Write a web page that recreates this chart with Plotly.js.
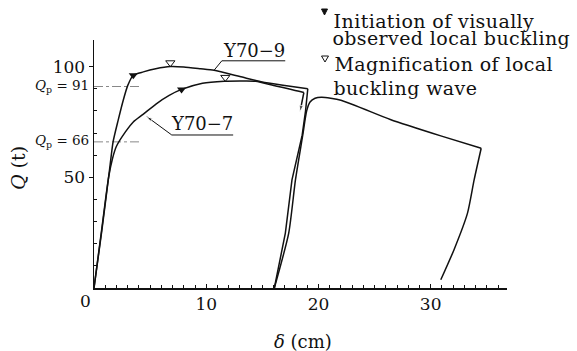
<!DOCTYPE html>
<html>
<head>
<meta charset="utf-8">
<script src="https://cdn.plot.ly/plotly-3.0.1.min.js"></script>
<style>
  html, body { margin: 0; padding: 0; background: #fff; }
  #chart { width: 577px; height: 351px; }
  /* the four symbol-legend lines (first four annotations) are set slightly open */
  .annotation[data-index="0"] text,
  .annotation[data-index="1"] text,
  .annotation[data-index="2"] text,
  .annotation[data-index="3"] text { letter-spacing: 0.4px; }
</style>
</head>
<body>
<div id="chart"></div>
<script>
// Load Q (t) versus displacement δ (cm) for specimens Y70-9 and Y70-7

// Y70-9: first loading up to the peak region and the turn-down point
const y709LoadX = [0, 0.7, 1.35, 1.7, 2.15, 2.6, 3.0, 3.5, 4.4, 5.5, 6.8, 8.0, 9.5, 10.7, 13.0, 15.0, 17.0, 19.05];
const y709LoadY = [0, 26, 52, 66, 75.7, 84.7, 91.4, 96.1, 97.6, 99.0, 100, 99.8, 99.0, 98.3, 95.5, 93.0, 91.5, 90.0];

// Y70-9: unloading back to zero load
const y709UnloadX = [19.05, 18.85, 18.55, 17.64, 17.05, 16.07];
const y709UnloadY = [90, 80, 69, 48.8, 24.8, 0];

// Y70-9: reloading, second peak and softening branch
const y709ReloadX = [16.07, 17.35, 17.95, 18.6, 18.95, 19.25, 19.7, 20.3, 22.0, 26.4, 30.9, 34.5];
const y709ReloadY = [0, 24.8, 48.8, 69, 80, 84, 85.7, 86.1, 84.8, 76.1, 68.7, 63.1];

// Y70-9: final unloading
const y709FinalX = [34.5, 33.87, 33.28, 32.08, 30.9];
const y709FinalY = [63.1, 48.8, 33.8, 17.3, 3.7];

// Y70-7: loading curve
const y707LoadX = [0, 0.65, 1.3, 1.65, 2.0, 2.8, 3.5, 4.37, 5.55, 6.7, 7.8, 9.67, 11.6, 13.0, 14.4, 16.2, 17.5, 18.7];
const y707LoadY = [0, 25, 50, 58.5, 64, 70.5, 75, 78.4, 83.2, 87, 89.7, 92.5, 93.4, 93.5, 93.4, 91.2, 89.8, 88.3];

// Y70-7: drop after the last recorded point
const y707DropX = [18.7, 18.35];
const y707DropY = [88.3, 79.5];

// Observation markers
const initiationX = [3.5, 7.8];      // ▼ initiation of visually observed local buckling
const initiationY = [96.1, 89.7];
const magnificationX = [6.8, 11.7];  // ▽ magnification of local buckling wave
const magnificationY = [101.7, 95.1];

// Yield loads Qp
const qpValues = [91, 66];
const qpLineEnd = 4.2;

// Axis ticks
const xTickVals = [10, 20, 30];
const xTickText = ['10', '20', '30'];
const yTickVals = [50, 100];
const yTickText = ['50', '100'];
const yMinorVals = [10, 20, 30, 40, 60, 70, 80, 90];

const INK = '#111';
const SERIF = 'DejaVu Serif, Liberation Serif, serif';
const LEGEND_SPACING = 0.4; // px, matches the stylesheet rule above

function curve(x, y, shape) {
  return {
    x: x, y: y, type: 'scatter', mode: 'lines',
    line: { color: INK, width: 1.5, shape: shape || 'spline', smoothing: 0.6 },
    hoverinfo: 'skip', showlegend: false
  };
}

const traces = [];

// dash-dot yield load lines
qpValues.forEach(q => {
  traces.push({
    x: [0, qpLineEnd], y: [q, q], type: 'scatter', mode: 'lines',
    line: { color: '#888', width: 1, dash: 'dashdot' },
    hoverinfo: 'skip', showlegend: false
  });
});

traces.push(curve(y709LoadX, y709LoadY));
traces.push(curve(y709UnloadX, y709UnloadY, 'linear'));
traces.push(curve(y709ReloadX, y709ReloadY));
traces.push(curve(y709FinalX, y709FinalY));
traces.push(curve(y707LoadX, y707LoadY));

// end of Y70-7 with an arrowhead
traces.push({
  x: y707DropX, y: y707DropY, type: 'scatter', mode: 'lines+markers',
  line: { color: INK, width: 1.5 },
  marker: { symbol: 'arrow', angleref: 'previous', size: y707DropX.map((_, i) => i === y707DropX.length - 1 ? 7 : 0), color: INK },
  hoverinfo: 'skip', showlegend: false
});

traces.push({
  x: initiationX, y: initiationY, type: 'scatter', mode: 'markers',
  marker: { symbol: 'triangle-down', size: 8, color: INK },
  hoverinfo: 'skip', showlegend: false
});
traces.push({
  x: magnificationX, y: magnificationY, type: 'scatter', mode: 'markers',
  marker: { symbol: 'triangle-down-open', size: 8, color: INK, line: { width: 1, color: INK } },
  hoverinfo: 'skip', showlegend: false
});

// underlined specimen labels with leader lines
function labelLeader(xs, ys, arrow) {
  return {
    x: xs, y: ys, type: 'scatter', mode: arrow ? 'lines+markers' : 'lines',
    line: { color: INK, width: 1 },
    marker: { symbol: 'arrow', angleref: 'previous', size: xs.map((_, i) => i === xs.length - 1 ? 6 : 0), color: INK },
    hoverinfo: 'skip', showlegend: false
  };
}
traces.push(labelLeader([17.04, 11.39, 10.71], [102.6, 102.6, 98.4], false));
traces.push(labelLeader([12.4, 6.93, 4.7], [69.1, 69.1, 77.4], true));

const L = 94, R = 70, T = 40, B = 63;
const W = 577 - L - R, H = 351 - T - B;
const px = v => (v - L) / W;          // page x -> paper x
const py = v => (351 - B - v) / H;    // page y -> paper y

function paperText(text, x, y, size, opts) {
  return Object.assign({
    text: text, xref: 'paper', yref: 'paper', x: px(x), y: py(y),
    xanchor: 'left', yanchor: 'middle', showarrow: false,
    font: { family: SERIF, size: size, color: INK }
  }, opts || {});
}

// symbol legend: text, left edge, vertical centre (page pixels)
const legendLines = [
  ['Initiation of visually', 332, 21.5],
  ['observed local buckling', 330.5, 38],
  ['Magnification of local', 333, 64],
  ['buckling wave', 332, 87.5]
];

// text is centred in its box, so the extra letter spacing spreads both ways
const legendAnnotations = legendLines.map(l =>
  paperText(l[0], l[1] + LEGEND_SPACING * (l[0].length - 1) / 2, l[2], 19));

const annotations = legendAnnotations.concat([
  // yield load labels
  paperText('<i>Q</i><sub>p</sub> = 91', 91, 86, 13.5, { xanchor: 'right' }),
  paperText('<i>Q</i><sub>p</sub> = 66', 91, 141, 13.5, { xanchor: 'right' }),
  // origin label and axis titles
  paperText('0', 85, 301, 17, { xanchor: 'center' }),
  paperText('<i>Q</i> (t)', 18, 168, 19, { xanchor: 'center', textangle: -90 }),
  paperText('<i>δ</i> (cm)', 303, 341, 18, { xanchor: 'center' }),
  // specimen labels
  { text: 'Y70−9', xref: 'x', yref: 'y', x: 14.25, y: 107.3, showarrow: false,
    font: { family: SERIF, size: 18, color: INK } },
  { text: 'Y70−7', xref: 'x', yref: 'y', x: 9.65, y: 74.4, showarrow: false,
    font: { family: SERIF, size: 18, color: INK } }
]);

// legend symbols: filled and open down-pointing triangles
function tri(cx, cy, w, h) {
  const x0 = px(cx - w / 2), x1 = px(cx + w / 2), xm = px(cx);
  const yt = py(cy - h / 2), yb = py(cy + h / 2);
  return `M${x0},${yt} L${x1},${yt} L${xm},${yb} Z`;
}
const shapes = [
  { type: 'path', xref: 'paper', yref: 'paper', path: tri(324.5, 12, 6, 6),
    fillcolor: INK, line: { color: INK, width: 1 } },
  { type: 'path', xref: 'paper', yref: 'paper', path: tri(325, 59, 7, 6),
    fillcolor: 'rgba(0,0,0,0)', line: { color: INK, width: 1 } }
];

const layout = {
  width: 577, height: 351,
  margin: { l: L, r: R, t: T, b: B, pad: 0 },
  paper_bgcolor: '#fff', plot_bgcolor: '#fff',
  showlegend: false,
  font: { family: SERIF, color: INK, size: 17 },
  xaxis: {
    range: [0, 36.8], showgrid: false, zeroline: false,
    showline: true, linecolor: INK, linewidth: 1.5,
    tickmode: 'array', tickvals: xTickVals, ticktext: xTickText,
    ticks: 'inside', ticklen: 4, tickwidth: 1, tickcolor: INK,
    tickfont: { family: SERIF, size: 17, color: INK },
    minor: { tickmode: 'linear', tick0: 0, dtick: 1, ticks: 'inside', ticklen: 3, tickwidth: 1, tickcolor: INK, showgrid: false }
  },
  yaxis: {
    range: [0, 112], showgrid: false, zeroline: false,
    showline: true, linecolor: INK, linewidth: 1.5,
    tickmode: 'array', tickvals: yTickVals, ticktext: yTickText,
    ticks: 'outside', ticklen: 4, tickwidth: 1, tickcolor: INK,
    tickfont: { family: SERIF, size: 17, color: INK },
    minor: { tickmode: 'array', tickvals: yMinorVals, ticks: 'inside', ticklen: 3, tickwidth: 1, tickcolor: INK, showgrid: false }
  },
  annotations: annotations,
  shapes: shapes
};

Plotly.newPlot('chart', traces, layout, { staticPlot: true, displayModeBar: false });
</script>
</body>
</html>
